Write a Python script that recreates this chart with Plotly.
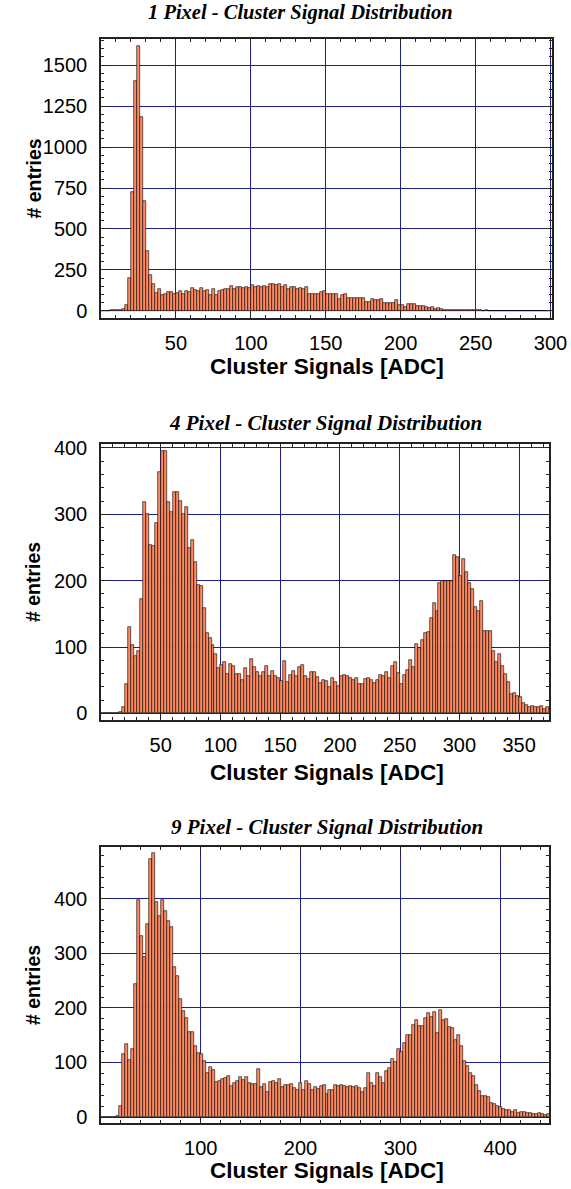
import plotly.graph_objects as go
import numpy as np

W, H = 571, 1189

# ---------------- data ----------------
titles = ["1 Pixel - Cluster Signal Distribution",
          "4 Pixel - Cluster Signal Distribution",
          "9 Pixel - Cluster Signal Distribution"]

bin_width_1 = 2.0
counts_1 = [0, 1, 2, 3, 4, 5, 4, 10, 37, 200,
            727, 1400, 1615, 1183, 672, 365,
            221, 164, 109, 133, 98, 105, 115, 113, 105,
            107, 119, 105, 119, 115, 139, 125, 123, 139, 123, 129, 98, 131, 98, 119,
            129, 133, 131, 152, 135, 146, 144, 141, 144, 137,
            156, 146, 152, 146, 152, 148, 164, 164, 158, 166, 146, 160, 131, 146, 148,
            133, 139, 131, 144, 103, 103, 103, 103,
            115, 119, 105, 103, 103, 103, 72, 98, 103, 82, 78, 82, 78, 82, 78, 53, 53,
            74, 68, 64, 72, 51, 51, 51, 51, 64, 37, 37, 27, 41, 45, 41, 29, 31, 29, 23,
            16, 25, 14, 16, 12, 6, 8,
            6, 5, 6, 5, 4, 4, 3, 3, 4, 3, 3, 2, 3, 2, 2, 1, 2, 1, 2, 1, 1, 1, 2, 1, 1,
            1, 1, 1, 1, 1, 1, 1, 1, 1]

bin_width_2 = 2.5
counts_2 = [0, 0, 0, 0, 0, 0, 2, 9,
            45, 130, 103, 86, 94, 173, 318, 300, 254, 253, 287, 364, 396, 396,
            318, 304, 334, 334, 320, 300, 311, 249, 261, 228, 194, 192, 159, 121, 113, 103, 89, 69,
            73, 78, 60, 74, 72, 60, 59, 50, 68, 57, 82, 70, 62, 56, 62, 72, 57, 64, 56, 53,
            49, 79, 48, 58, 64, 56, 70, 73, 57, 52, 63, 63, 55,
            46, 50, 49, 40, 53, 48, 41,
            56, 58, 56, 53, 50, 54, 45, 45, 52, 54, 50, 46, 50, 58,
            57, 63, 54, 72, 77, 61, 44, 58, 66, 80, 70, 105, 99, 111, 121, 122, 143, 167, 155,
            196, 199, 199, 200, 200, 238, 236, 207, 232, 213, 197, 188, 161, 154, 169,
            124, 124, 124, 94, 77, 90, 72, 60, 47, 29, 31, 26, 24, 16, 12, 10, 11, 10, 9, 11,
            6, 9]

bin_width_3 = 3.0
counts_3 = [0, 0, 0, 0, 0, 2, 20,
            116, 133, 105, 124, 243, 398, 331, 294, 354, 473, 484, 394, 369, 398, 378,
            360, 349, 275, 259, 217, 195, 181, 155, 155, 131, 118,
            115, 102, 80, 91, 87, 65, 66, 70, 71, 76, 57, 62, 66, 74, 68, 74, 62, 60, 60, 88,
            55, 60, 45, 65, 66, 63, 70, 55, 59, 58, 60, 54, 50,
            63, 50, 66, 60, 50, 55, 51,
            56, 59, 43, 49, 50, 59, 56, 59, 56, 55, 56, 55, 56, 53, 46, 53, 81, 63, 57, 80,
            73, 63, 84,
            90, 106, 101, 125, 119, 135, 151, 151, 169, 177, 166, 166, 182, 191, 183, 192,
            154, 196, 177, 179, 165, 164, 142, 150, 130, 102, 93, 80, 76, 59, 48, 38, 38, 37,
            26, 24, 21, 18, 15, 13, 12, 10, 12, 7, 10, 10, 7, 7, 6, 6, 7, 6, 4, 6]

x_ticks_1 = [50, 100, 150, 200, 250, 300]
x_ticks_2 = [50, 100, 150, 200, 250, 300, 350]
x_ticks_3 = [100, 200, 300, 400]
y_ticks_1 = [0, 250, 500, 750, 1000, 1250, 1500]
y_ticks_2 = [0, 100, 200, 300, 400]
y_ticks_3 = [0, 100, 200, 300, 400]

x_title = "Cluster Signals [ADC]"
y_title = "# entries"

# ---------------- layout geometry (pixels) ----------------
boxes = [(101, 552, 39, 318), (101, 549, 444, 720), (101, 549, 847, 1123)]
x_ranges = [[0, 301], [0, 375], [0, 449]]
y_ranges = [[-43, 1659], [-10, 406], [-11, 495]]
x_minor = [10, 10, 20]
y_minor = [50, 20, 20]
title_cx = [300, 325, 327]
title_cy = [12, 423, 827]
title_size = [20.5, 21, 21]
xt_cy = [366, 772, 1170]

BAR_FILL = "#FF8A62"
GRID = "#1E1E8C"
AXC = "#222222"

fig = go.Figure()
datasets = [(counts_1, bin_width_1), (counts_2, bin_width_2), (counts_3, bin_width_3)]
xticks = [x_ticks_1, x_ticks_2, x_ticks_3]
yticks = [y_ticks_1, y_ticks_2, y_ticks_3]

annotations = []
for i, ((counts, bw), (x0, x1, y0, y1)) in enumerate(zip(datasets, boxes)):
    n = i + 1
    xa = "x" if n == 1 else f"x{n}"
    ya = "y" if n == 1 else f"y{n}"
    centers = (np.arange(len(counts)) + 0.5) * bw
    fig.add_trace(go.Bar(
        x=centers, y=counts, width=bw, xaxis=xa, yaxis=ya,
        marker=dict(color=BAR_FILL, line=dict(color="black", width=0.6)),
        showlegend=False, hoverinfo="x+y"))

    common = dict(showline=True, linecolor=AXC, linewidth=1.5, mirror="ticks",
                  ticks="inside", ticklen=6, tickcolor=AXC, tickwidth=1, automargin=False,
                  showgrid=True, gridcolor=GRID, gridwidth=1, zeroline=False,
                  tickfont=dict(family="Liberation Sans, Arial, sans-serif", size=20, color="black"))
    fig.layout[f"xaxis{'' if n == 1 else n}"] = dict(
        domain=[x0 / W, x1 / W], anchor=ya, range=x_ranges[i],
        tickmode="array", tickvals=xticks[i], ticklabelstandoff=6,
        minor=dict(ticks="inside", ticklen=3, tickcolor=AXC, tick0=0, dtick=x_minor[i], showgrid=False),
        **common)
    fig.layout[f"yaxis{'' if n == 1 else n}"] = dict(
        domain=[1 - y1 / H, 1 - y0 / H], anchor=xa, range=y_ranges[i],
        tickmode="array", tickvals=yticks[i], ticklabelstandoff=8,
        minor=dict(ticks="inside", ticklen=3, tickcolor=AXC, tick0=0, dtick=y_minor[i], showgrid=False),
        **common)

    annotations.append(dict(text=f"<b><i>{titles[i]}</i></b>", xref="paper", yref="paper",
                            x=title_cx[i] / W, y=1 - title_cy[i] / H, showarrow=False,
                            xanchor="center", yanchor="middle",
                            font=dict(family="Liberation Serif, Times New Roman, serif",
                                      size=title_size[i], color="black")))
    annotations.append(dict(text=f"<b>{x_title}</b>", xref="paper", yref="paper",
                            x=327 / W, y=1 - xt_cy[i] / H, showarrow=False,
                            xanchor="center", yanchor="middle",
                            font=dict(family="Liberation Sans, Arial, sans-serif", size=22.5, color="black")))
    annotations.append(dict(text=f"<b>{y_title}</b>", xref="paper", yref="paper",
                            x=33 / W, y=1 - ((y0 + y1) / 2) / H, showarrow=False, textangle=-90,
                            xanchor="center", yanchor="middle",
                            font=dict(family="Liberation Sans, Arial, sans-serif", size=19.5, color="black")))

fig.update_layout(width=W, height=H, margin=dict(l=0, r=0, t=0, b=0, autoexpand=False),
                  paper_bgcolor="white", plot_bgcolor="white",
                  bargap=0, annotations=annotations)

post = ("var s=document.documentElement.style;s.margin='0';s.padding='0';s.overflow='hidden';"
        "var b=document.body.style;b.margin='0';b.padding='0';b.overflow='hidden';")
fig.write_html("out.html", config={"displayModeBar": False}, post_script=post)
